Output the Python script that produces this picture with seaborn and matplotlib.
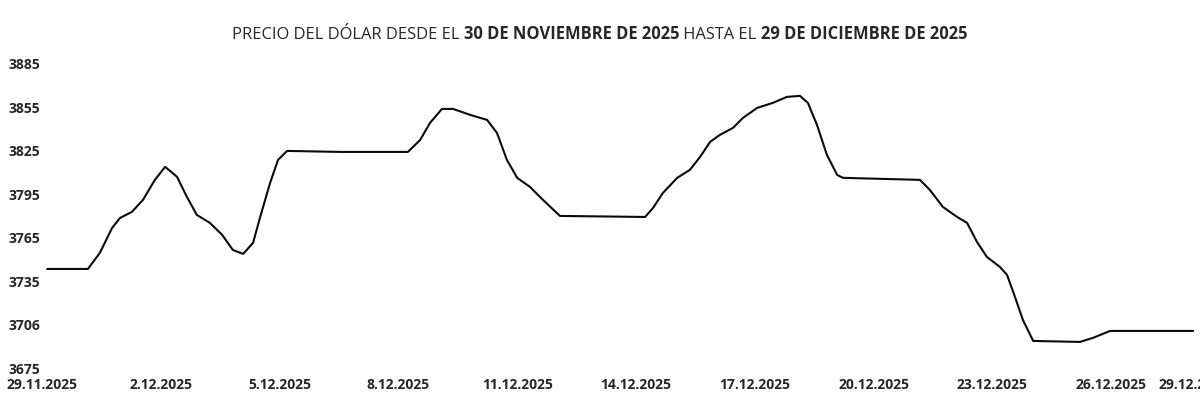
import matplotlib
matplotlib.use("Agg")
import matplotlib.pyplot as plt
import pandas as pd
import seaborn as sns

# values (day offset from 29.11.2025, price)
days = [0.13, 1.16, 1.46, 1.77, 1.97, 2.27, 2.55, 2.85, 3.11, 3.41,
        3.66, 3.91, 4.24, 4.55, 4.82, 5.08, 5.33, 5.51, 5.76, 5.96,
        6.19, 7.53, 9.24, 9.55, 9.80, 10.10, 10.38, 10.81, 11.24, 11.49,
        11.74, 12.0, 12.32, 12.65, 13.08, 15.23, 15.43, 15.68, 16.04, 16.36,
        16.62, 16.87, 17.12, 17.45, 17.70, 18.06, 18.46, 18.81, 19.14, 19.34,
        19.57, 19.82, 20.08, 20.23, 22.17, 22.42, 22.75, 23.11, 23.36, 23.61,
        23.86, 24.19, 24.37, 24.57, 24.77, 25.03, 26.21, 26.54, 26.97, 29.07]
precio = [3743.4, 3743.4, 3754.5, 3771.7, 3778.6, 3782.8, 3791.1, 3804.9, 3813.9, 3807.0,
          3793.1, 3780.7, 3775.2, 3766.9, 3756.5, 3753.8, 3761.4, 3779.3, 3802.8, 3818.7,
          3824.9, 3824.2, 3824.2, 3832.5, 3844.3, 3853.9, 3853.9, 3849.8, 3846.3, 3837.3,
          3818.7, 3806.3, 3800.1, 3791.1, 3780.0, 3779.3, 3785.5, 3795.9, 3806.3, 3811.8,
          3820.8, 3831.1, 3836.0, 3840.8, 3847.7, 3854.6, 3858.1, 3862.2, 3862.9, 3858.1,
          3842.9, 3822.2, 3808.3, 3806.3, 3804.9, 3798.0, 3786.2, 3779.3, 3775.2, 3762.1,
          3751.7, 3744.8, 3739.3, 3724.1, 3708.2, 3693.7, 3693.0, 3695.8, 3700.6, 3700.6]

x_ticks = [0, 3, 6, 9, 12, 15, 18, 21, 24, 27, 30]
x_labels = ['29.11.2025', '2.12.2025', '5.12.2025', '8.12.2025', '11.12.2025',
            '14.12.2025', '17.12.2025', '20.12.2025', '23.12.2025', '26.12.2025', '29.12.2025']
y_ticks = [3675, 3705, 3735, 3765, 3795, 3825, 3855, 3885]
y_labels = ['3675', '3706', '3735', '3765', '3795', '3825', '3855', '3885']

title_parts = [("PRECIO DEL DÓLAR DESDE EL ", "normal"),
               ("30 DE NOVIEMBRE DE 2025", "bold"),
               (" HASTA EL ", "normal"),
               ("29 DE DICIEMBRE DE 2025", "bold")]

df = pd.DataFrame({'dia': days, 'precio': precio})

sns.set_style("white")
plt.rcParams['font.family'] = ['Open Sans', 'DejaVu Sans']

fig = plt.figure(figsize=(12, 4.11), dpi=100)
ax = fig.add_axes([0.035, 0.1046, 0.99, 0.740])
sns.lineplot(data=df, x='dia', y='precio', ax=ax, color='#0a0a0a', linewidth=1.5)

ax.set_xlim(0, 30)
ax.set_ylim(3675, 3885)
ax.set_xticks(x_ticks)
ax.set_xticklabels(x_labels, fontsize=10, fontweight='bold')
ax.get_xticklabels()[-1].set_horizontalalignment('right')
ax.set_yticks(y_ticks)
ax.set_yticklabels(y_labels, fontsize=10, fontweight='bold')
ax.tick_params(axis='both', length=0)
ax.tick_params(axis='x', pad=7)
ax.tick_params(axis='y', pad=1)
ax.set_xlabel('')
ax.set_ylabel('')
sns.despine(ax=ax, left=True, bottom=True)

# mixed-weight title, chained piece by piece
t = fig.text(232 / 1200, 1 - 39 / 411, title_parts[0][0], fontsize=11.9,
             fontweight=title_parts[0][1], ha='left', va='baseline')
for txt, w in title_parts[1:]:
    t = ax.annotate(txt, xy=(1, 0), xycoords=t, fontsize=11.9, fontweight=w,
                    ha='left', va='bottom', annotation_clip=False)

fig.savefig('out.png', dpi=100)
